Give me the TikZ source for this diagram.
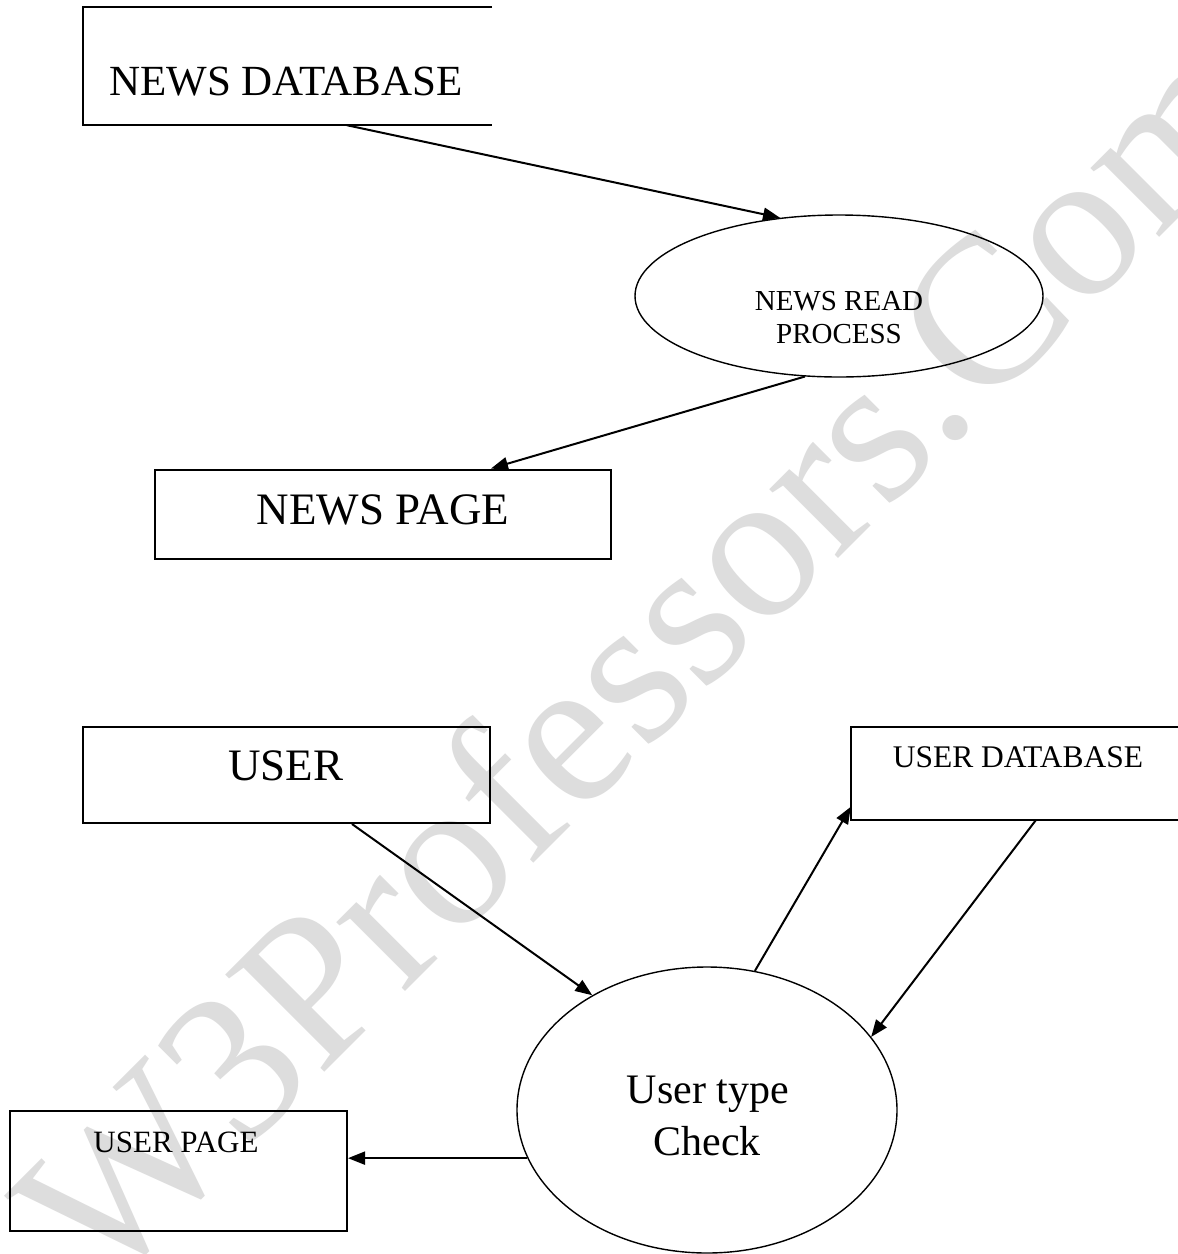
\documentclass[tikz,border=0pt]{standalone}
\usepackage{fontspec}
\setmainfont{Liberation Serif}
\usetikzlibrary{arrows.meta,shapes.geometric}

\definecolor{wmgray}{RGB}{221,221,221}

\begin{document}
\begin{tikzpicture}[x=1pt,y=-1pt,
  frame/.style={draw, line width=2pt, inner sep=0pt},
  openframe/.style={inner sep=0pt},
  bubble/.style={ellipse, draw, line width=1.4pt, inner sep=0pt},
  flow/.style={line width=2pt, -{Triangle[length=17pt,width=13pt]}},
  lbl/.style={anchor=base, inner sep=0pt},
  wm/.style={anchor=base, inner sep=0pt, text=wmgray,
    font=\fontsize{212}{250}\selectfont}]

  % page
  \useasboundingbox (0,0) rectangle (1178,1254);
  \fill[white] (0,0) rectangle (1178,1254);

  % background watermark
  \node[wm, rotate=45] (wmtext) at (688,709) {W3Professors.Com};

  % --- news flow ---
  \node[openframe, minimum width=409pt, minimum height=118pt] (ndb) at (287.5,66) {};
  \draw[line width=2pt] (ndb.north east) -- (ndb.north west) -- (ndb.south west) -- (ndb.south east);
  \node[lbl, font=\fontsize{43}{52}\selectfont] (ndbt) at (286,95) {NEWS DATABASE};

  \node[bubble, minimum width=408pt, minimum height=162pt] (nrp) at (839,296) {};
  \node[lbl, font=\fontsize{29}{35}\selectfont] (nrpa) at (839,310) {NEWS READ};
  \node[lbl, font=\fontsize{29}{35}\selectfont] (nrpb) at (839,343) {PROCESS};

  \node[frame, minimum width=456pt, minimum height=89pt] (np) at (383,514) {};
  \node[lbl, font=\fontsize{45}{54}\selectfont] (npt) at (383,524) {NEWS PAGE};

  \draw[flow] ([xshift=264pt]ndb.south west) -- (nrp.127);
  \draw[flow] (nrp.247) -- ([xshift=337pt]np.north west);

  % --- user flow ---
  \node[frame, minimum width=407pt, minimum height=96pt] (user) at (286.5,775) {};
  \node[lbl, font=\fontsize{45}{54}\selectfont] (usert) at (286,780) {USER};

  \node[openframe, minimum width=329pt, minimum height=93pt] (udb) at (1015.5,773.5) {};
  \draw[line width=2pt] (udb.north east) -- (udb.north west) -- (udb.south west) -- (udb.south east);
  \node[lbl, font=\fontsize{31.5}{38}\selectfont] (udbt) at (1018,767) {USER DATABASE};

  \node[bubble, minimum width=380pt, minimum height=286pt] (uc) at (707,1110) {};
  \node[lbl, font=\fontsize{42}{50}\selectfont] (uca) at (708,1103) {User type};
  \node[lbl, font=\fontsize{42}{50}\selectfont] (ucb) at (707,1155) {Check};

  \node[frame, minimum width=337pt, minimum height=120pt] (up) at (178.5,1171) {};
  \node[lbl, font=\fontsize{31}{37}\selectfont] (upt) at (176,1152) {USER PAGE};

  \draw[flow] ([xshift=270pt]user.south west) -- (uc.135);
  \draw[flow] (uc.71) -- ([yshift=-80pt]udb.north west);
  \draw[flow] ([xshift=185pt]udb.south west) -- (uc.24);
  \draw[flow] (uc.195) -- (uc.195 -| up.east);
\end{tikzpicture}
\end{document}
